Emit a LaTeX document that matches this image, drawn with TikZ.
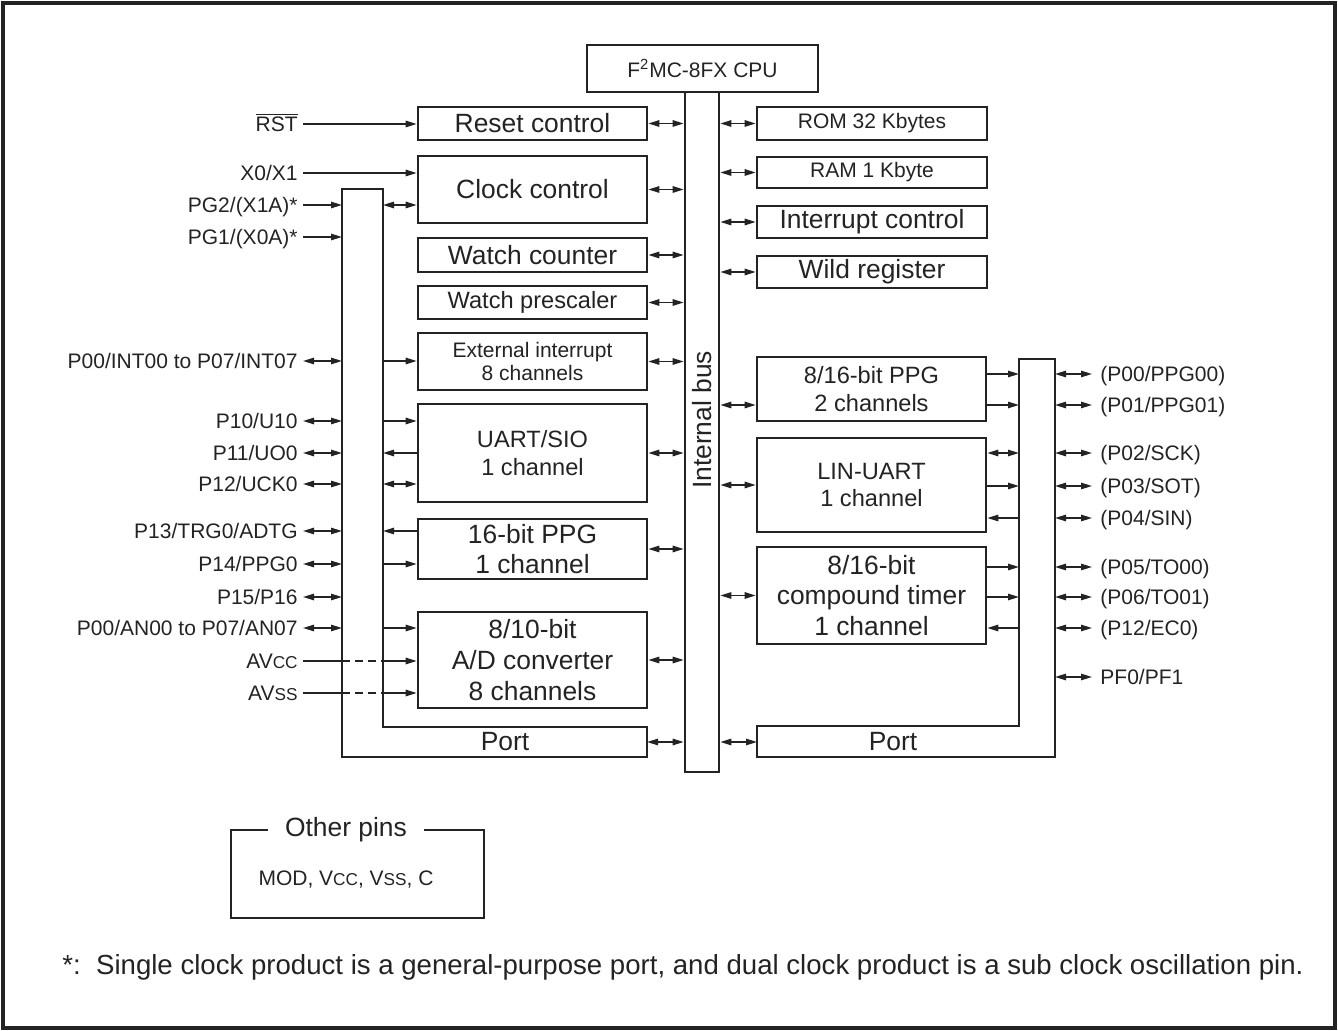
\documentclass[tikz,border=0pt]{standalone}
\usepackage{fontspec}
\setmainfont{Liberation Sans}
\usepackage{tikz}
\usetikzlibrary{arrows.meta,positioning}
\definecolor{lineclr}{RGB}{35,35,35}
\tikzset{
  % function blocks
  blk/.style={draw=lineclr, line width=1.3pt, inner sep=0pt, align=center},
  % place a block by its two corners (sheet pixels)
  span/.style n args={4}{minimum width={(#3-#1)*0.5pt}, minimum height={(#4-#2)*0.5pt},
    at={({(#1+#3)/2},{(#2+#4)/2})}},
  % three text sizes of the sheet
  bigtxt/.style={font=\fontsize{13.2}{15.4}\selectfont},
  midtxt/.style={font=\fontsize{11.8}{13.6}\selectfont},
  smalltxt/.style={font=\fontsize{10.5}{11.6}\selectfont},
  % pin names left and right
  pinl/.style={smalltxt, anchor=east, inner xsep=2.5pt, inner ysep=0pt, text height=7.5pt, text depth=0pt},
  pinr/.style={smalltxt, anchor=west, inner xsep=4pt, inner ysep=0pt, text height=7.5pt, text depth=0pt},
  % port rails
  portln/.style={draw=lineclr, line width=1.3pt, line join=miter},
  % signal lines
  sigln/.style={line width=0.75pt, lineclr},
  sgl/.style={sigln, -{Triangle[length=5.5pt,width=3.2pt]}},
  dbl/.style={sigln, {Triangle[length=5.5pt,width=3.2pt]}-{Triangle[length=5.5pt,width=3.2pt]}},
}
\newcommand{\smc}[1]{{\fontsize{8.6}{10}\selectfont #1}}

\begin{document}
\begin{tikzpicture}[x=0.5pt, y=-0.5pt, every node/.style={text=lineclr}]
  \useasboundingbox (0,0) rectangle (1338,1031);
  \draw[line width=1.6pt, lineclr] (3,3) rectangle (1335,1028);

  % --- CPU and internal bus ---
  \node[blk, smalltxt, span={587}{45}{818}{92}] (cpu) {F\textsuperscript{2}MC-8FX CPU};
  \node[blk, span={685}{92}{719}{772}] (bus) {};
  \node[bigtxt, rotate=90] (buslbl) at (702,420) {Internal bus};

  % --- blocks left of the bus ---
  \node[blk, bigtxt, span={418}{107}{647}{140}] (reset) {Reset control};
  \node[blk, bigtxt, span={418}{156}{647}{223}] (clock) {Clock control};
  \node[blk, bigtxt, span={418}{238}{647}{272}] (wcnt) {Watch counter};
  \node[blk, midtxt, span={418}{286}{647}{319}] (wpre) {Watch prescaler};
  \node[blk, smalltxt, span={418}{333}{647}{390}] (extint) {External interrupt\\8 channels};
  \node[blk, midtxt, span={418}{404}{647}{502}] (uart) {UART/SIO\\1 channel};
  \node[blk, bigtxt, span={418}{519}{647}{579}] (ppg16) {16-bit PPG\\1 channel};
  \node[blk, bigtxt, span={418}{612}{647}{708}] (adc) {8/10-bit\\A/D converter\\8 channels};

  % left port: outer rail, inner rail and the port box
  \draw[portln] (342,189) -- (383,189) -- (383,727) -- (647,727) -- (647,757) -- (342,757) -- cycle;
  \coordinate (lpo) at (342,189);
  \coordinate (lpi) at (383,189);
  \coordinate (lportR) at (647,742);
  \node[bigtxt] (lport) at (505,742) {Port};

  % --- blocks right of the bus ---
  \node[blk, smalltxt, span={757}{107}{987}{140}] (rom) {ROM 32 Kbytes};
  \node[blk, smalltxt, span={757}{157}{987}{188}] (ram) {RAM 1 Kbyte};
  \node[blk, bigtxt, span={757}{206}{987}{238}] (intc) {Interrupt control};
  \node[blk, bigtxt, span={757}{256}{987}{288}] (wild) {Wild register};
  \node[blk, midtxt, span={757}{357}{986}{421}] (ppg8) {8/16-bit PPG\\2 channels};
  \node[blk, midtxt, span={757}{438}{986}{532}] (lin) {LIN-UART\\1 channel};
  \node[blk, bigtxt, span={757}{547}{986}{644}] (ctim) {8/16-bit\\compound timer\\1 channel};

  % right port
  \draw[portln] (1019,359) -- (1055,359) -- (1055,757) -- (757,757) -- (757,726) -- (1019,726) -- cycle;
  \coordinate (rpo) at (1055,359);
  \coordinate (rpi) at (1019,359);
  \coordinate (rportL) at (757,742);
  \node[bigtxt] (rport) at (893,742) {Port};

  % bus connections
  \foreach \b in {reset,clock,wcnt,wpre,extint,uart,ppg16,adc}
    \draw[dbl] (\b.east) -- (\b.east -| bus.west);
  \foreach \b in {rom,ram,intc,wild,lin,ctim}
    \draw[dbl] (\b.west -| bus.east) -- (\b.west);
  \draw[dbl] (lportR) -- (lportR -| bus.west);
  \draw[dbl] (rportL -| bus.east) -- (rportL);

  % --- left pins ---
  \node[pinl] (rst) at (303,124) {$\overline{\mbox{RST}}$};
  \node[pinl] (x01) at (303,173) {X0/X1};
  \node[pinl] (pg2) at (303,205) {PG2/(X1A)*};
  \node[pinl] (pg1) at (303,237) {PG1/(X0A)*};
  \node[pinl] (int) at (303,361) {P00/INT00 to P07/INT07};
  \node[pinl] (p10) at (303,421) {P10/U10};
  \node[pinl] (p11) at (303,453) {P11/UO0};
  \node[pinl] (p12) at (303,484) {P12/UCK0};
  \node[pinl] (p13) at (303,531) {P13/TRG0/ADTG};
  \node[pinl] (p14) at (303,564) {P14/PPG0};
  \node[pinl] (p15) at (303,597) {P15/P16};
  \node[pinl] (an) at (303,628) {P00/AN00 to P07/AN07};
  \node[pinl] (avcc) at (303,661) {AV\smc{CC}};
  \node[pinl] (avss) at (303,693) {AV\smc{SS}};

  \draw[sgl] (rst.east) -- (rst.east -| reset.west);
  \draw[sgl] (x01.east) -- (x01.east -| clock.west);
  \draw[sgl] (pg2.east) -- (pg2.east -| lpo);
  \draw[sgl] (pg1.east) -- (pg1.east -| lpo);
  \foreach \p in {int,p10,p11,p12,p13,p14,p15,an}
    \draw[dbl] (\p.east) -- (\p.east -| lpo);

  % inner rail to the blocks
  \draw[dbl] (pg2.east -| lpi) -- (pg2.east -| clock.west);
  \draw[sgl] (int.east -| lpi) -- (int.east -| extint.west);
  \draw[sgl] (p10.east -| lpi) -- (p10.east -| uart.west);
  \draw[sgl] (p11.east -| uart.west) -- (p11.east -| lpi);
  \draw[dbl] (p12.east -| lpi) -- (p12.east -| uart.west);
  \draw[sgl] (p13.east -| ppg16.west) -- (p13.east -| lpi);
  \draw[sgl] (p14.east -| lpi) -- (p14.east -| ppg16.west);
  \draw[sgl] (an.east -| lpi) -- (an.east -| adc.west);
  \foreach \p in {avcc,avss} {
    \draw[sigln] (\p.east) -- (\p.east -| lpo);
    \draw[sigln, dash pattern=on 4pt off 2.5pt] (\p.east -| lpo) -- (\p.east -| lpi);
    \draw[sgl] (\p.east -| lpi) -- (\p.east -| adc.west);
  }

  % --- right pins ---
  \node[pinr] (q00) at (1092,374) {(P00/PPG00)};
  \node[pinr] (q01) at (1092,405) {(P01/PPG01)};
  \node[pinr] (q02) at (1092,453) {(P02/SCK)};
  \node[pinr] (q03) at (1092,486) {(P03/SOT)};
  \node[pinr] (q04) at (1092,518) {(P04/SIN)};
  \node[pinr] (q05) at (1092,567) {(P05/TO00)};
  \node[pinr] (q06) at (1092,597) {(P06/TO01)};
  \node[pinr] (q12) at (1092,628) {(P12/EC0)};
  \node[pinr] (pf) at (1092,677) {PF0/PF1};
  \foreach \q in {q00,q01,q02,q03,q04,q05,q06,q12,pf}
    \draw[dbl] (\q.west -| rpo) -- (\q.west);

  \draw[dbl] (q01.west -| bus.east) -- (q01.west -| ppg8.west);
  \draw[sgl] (q00.west -| ppg8.east) -- (q00.west -| rpi);
  \draw[sgl] (q01.west -| ppg8.east) -- (q01.west -| rpi);
  \draw[dbl] (q02.west -| lin.east) -- (q02.west -| rpi);
  \draw[sgl] (q03.west -| lin.east) -- (q03.west -| rpi);
  \draw[sgl] (q04.west -| rpi) -- (q04.west -| lin.east);
  \draw[sgl] (q05.west -| ctim.east) -- (q05.west -| rpi);
  \draw[sgl] (q06.west -| ctim.east) -- (q06.west -| rpi);
  \draw[sgl] (q12.west -| rpi) -- (q12.west -| ctim.east);

  % --- other pins and note ---
  \node[blk, span={231}{830}{484}{918}] (other) {};
  \node[bigtxt, fill=white, inner xsep=8.5pt] (otherlbl) at (346,830) {Other pins};
  \node[smalltxt] (otherpins) at (346,880) {MOD, V\smc{CC}, V\smc{SS}, C};
  \node[font=\fontsize{13.8}{16}\selectfont, anchor=west, inner sep=0pt] (note) at (62,967)
    {*:\ \ Single clock product is a general-purpose port, and dual clock product is a sub clock oscillation pin.};
\end{tikzpicture}
\end{document}
